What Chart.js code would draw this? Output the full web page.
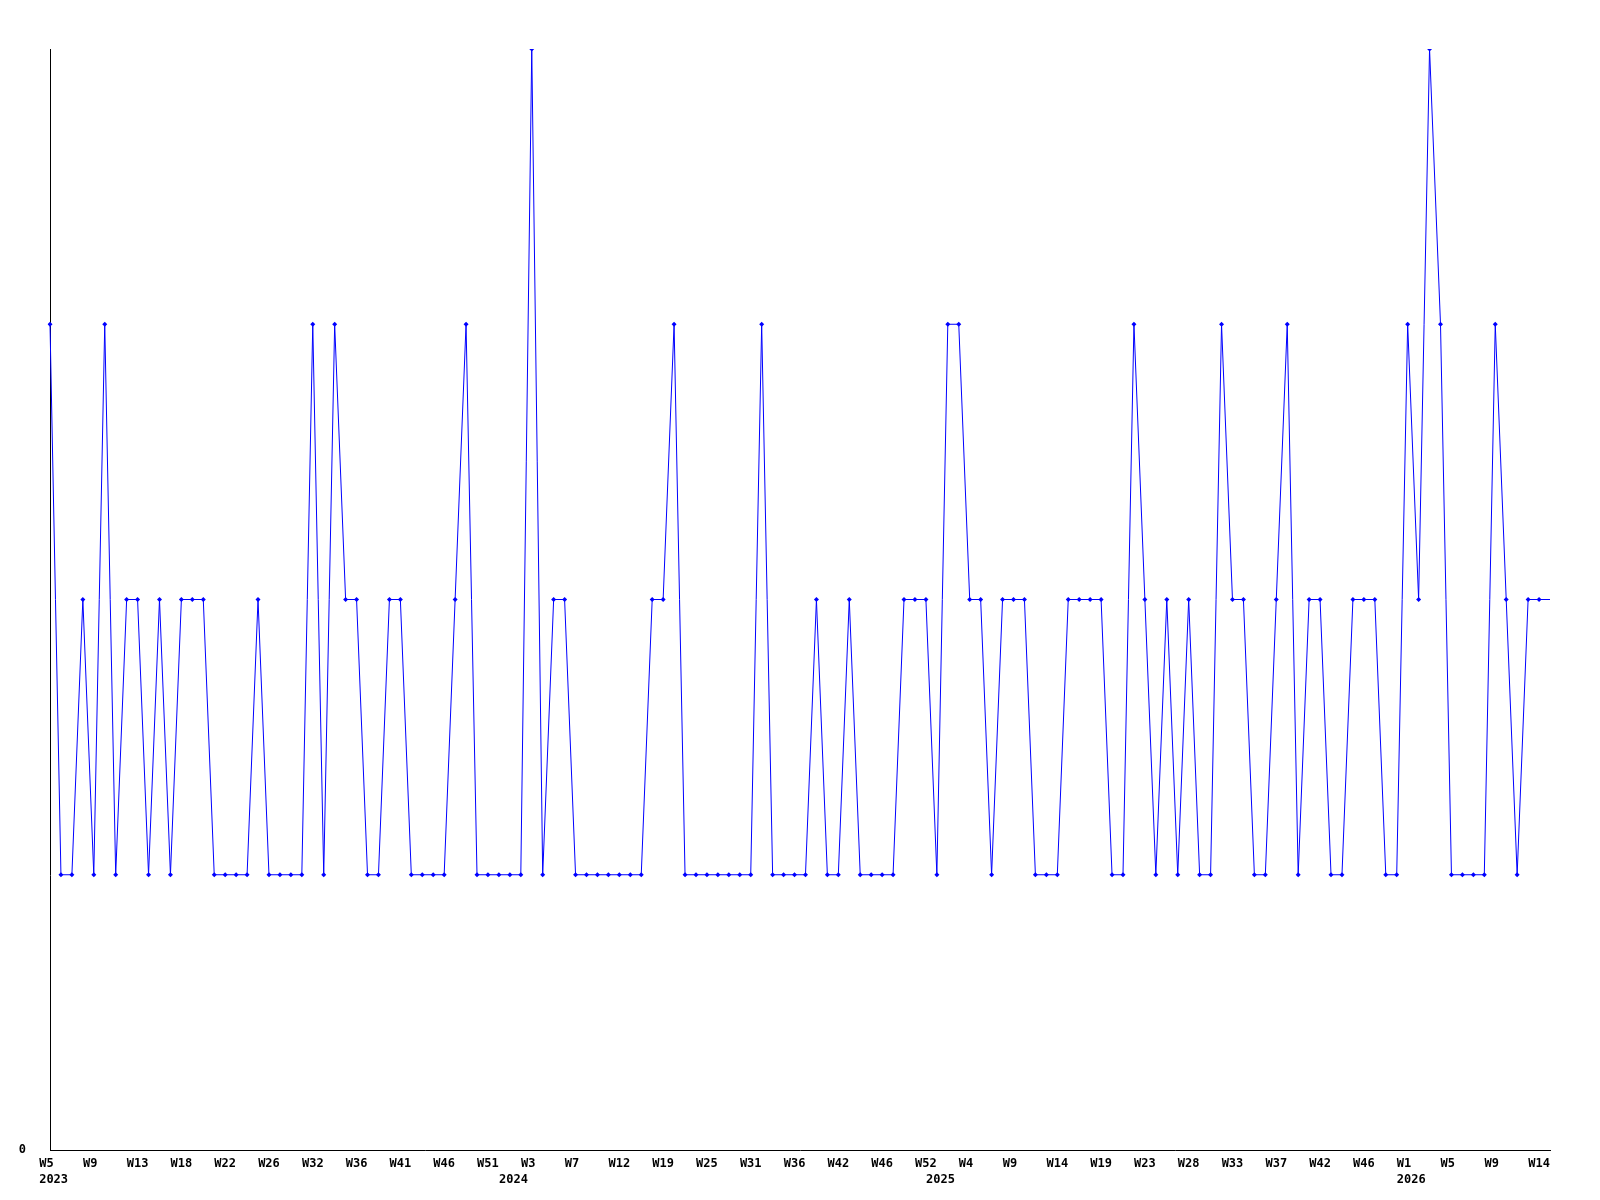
<!DOCTYPE html>
<html>
<head>
<meta charset="utf-8">
<script src="https://cdn.jsdelivr.net/npm/chart.js@4/dist/chart.umd.min.js"></script>
<style>
  body { margin: 0; background: #fff; }
  #wrap { width: 1600px; height: 1200px; }
</style>
</head>
<body>
<div id="wrap"><canvas id="weekly-chart" width="1600" height="1200"></canvas></div>
<script>
var weekYears = [
  2023,2023,2023,2023,2023,2023,2023,2023,2023,2023,2023,2023,2023,2023,2023,2023,2023,2023,2023,2023,
  2023,2023,2023,2023,2023,2023,2023,2023,2023,2023,2023,2023,2023,2023,2023,2023,2023,2023,2023,2023,
  2023,2023,2024,2024,2024,2024,2024,2024,2024,2024,2024,2024,2024,2024,2024,2024,2024,2024,2024,2024,
  2024,2024,2024,2024,2024,2024,2024,2024,2024,2024,2024,2024,2024,2024,2024,2024,2024,2024,2024,2024,
  2024,2025,2025,2025,2025,2025,2025,2025,2025,2025,2025,2025,2025,2025,2025,2025,2025,2025,2025,2025,
  2025,2025,2025,2025,2025,2025,2025,2025,2025,2025,2025,2025,2025,2025,2025,2025,2025,2025,2025,2025,
  2025,2025,2025,2025,2026,2026,2026,2026,2026,2026,2026,2026,2026,2026,2026,2026,2026,2026
];
var weekNums = [
  5,6,7,8,9,10,11,12,13,14,15,17,18,19,20,21,22,23,24,25,
  26,27,29,30,32,33,34,35,36,37,38,40,41,42,43,45,46,47,48,50,
  51,52,1,2,3,4,5,6,7,8,9,11,12,13,15,17,19,20,22,24,
  25,26,28,30,31,32,33,35,36,37,39,41,42,43,44,45,46,47,49,51,
  52,1,2,3,4,5,6,8,9,10,11,13,14,15,16,18,19,20,21,22,
  23,24,25,27,28,29,30,32,33,34,35,36,37,38,39,41,42,43,44,45,
  46,47,49,51,1,2,3,4,5,6,7,8,9,10,11,13,14,15
];
var counts = [
  3,1,1,2,1,3,1,2,2,1, 2,1,2,2,2,1,1,1,1,2,
  1,1,1,1,3,1,3,2,2,1, 1,2,2,1,1,1,1,2,3,1,
  1,1,1,1,4,1,2,2,1,1, 1,1,1,1,1,2,2,3,1,1,
  1,1,1,1,1,3,1,1,1,1, 2,1,1,2,1,1,1,1,2,2,
  2,1,3,3,2,2,1,2,2,2, 1,1,1,2,2,2,2,1,1,3,
  2,1,2,1,2,1,1,3,2,2, 1,1,2,3,1,2,2,1,1,2,
  2,2,1,1,3,2,4,3,1,1, 1,1,3,2,1,2,2,2
];

var labels = weekNums.map(function (w, i) { return weekYears[i] + "-W" + w; });
var mono = "'DejaVu Sans Mono', 'Liberation Mono', monospace";

new Chart("weekly-chart", {
  type: "line",
  data: {
    labels: labels,
    datasets: [{
      data: counts,
      fill: false,
      borderColor: "rgb(0,0,255)",
      backgroundColor: "rgb(0,0,255)",
      borderWidth: 1,
      tension: 0,
      pointStyle: "rectRot",
      pointRadius: function (ctx) { return ctx.dataIndex === counts.length - 1 ? 0 : 2.5; },
      pointBorderWidth: 0,
      pointHoverRadius: 2.5
    }]
  },
  options: {
    responsive: false,
    animation: false,
    layout: { padding: { top: 49, right: 50, left: 0, bottom: 0 } },
    plugins: {
      legend: { display: false },
      tooltip: { enabled: false }
    },
    scales: {
      x: {
        offset: false,
        grid: { display: false },
        border: { display: true, color: "#000", width: 1 },
        ticks: {
          autoSkip: false,
          maxRotation: 0,
          minRotation: 0,
          padding: -2,
          color: "#000",
          font: { family: mono, size: 12, weight: "bold", lineHeight: 1.3 },
          callback: function (v, i) {
            // week label every 4th point, year under the first week of each year
            var week = i % 4 === 0 ? ("W" + weekNums[i]).padEnd(3, " ") : "";
            var newYear = i === 0 || weekYears[i - 1] !== weekYears[i];
            if (newYear) return [week, " " + weekYears[i]];
            return week;
          }
        },
        afterFit: function (scale) { scale.height = 50; }
      },
      y: {
        min: 0,
        max: 4,
        grid: { display: false },
        border: { display: true, color: "#000", width: 1 },
        ticks: {
          stepSize: 4,
          padding: 16,
          color: "#000",
          font: { family: mono, size: 12, weight: "bold" },
          callback: function (v) { return v === 0 ? "0" : ""; }
        },
        afterFit: function (scale) { scale.width = 50; }
      }
    }
  }
});
</script>
</body>
</html>
